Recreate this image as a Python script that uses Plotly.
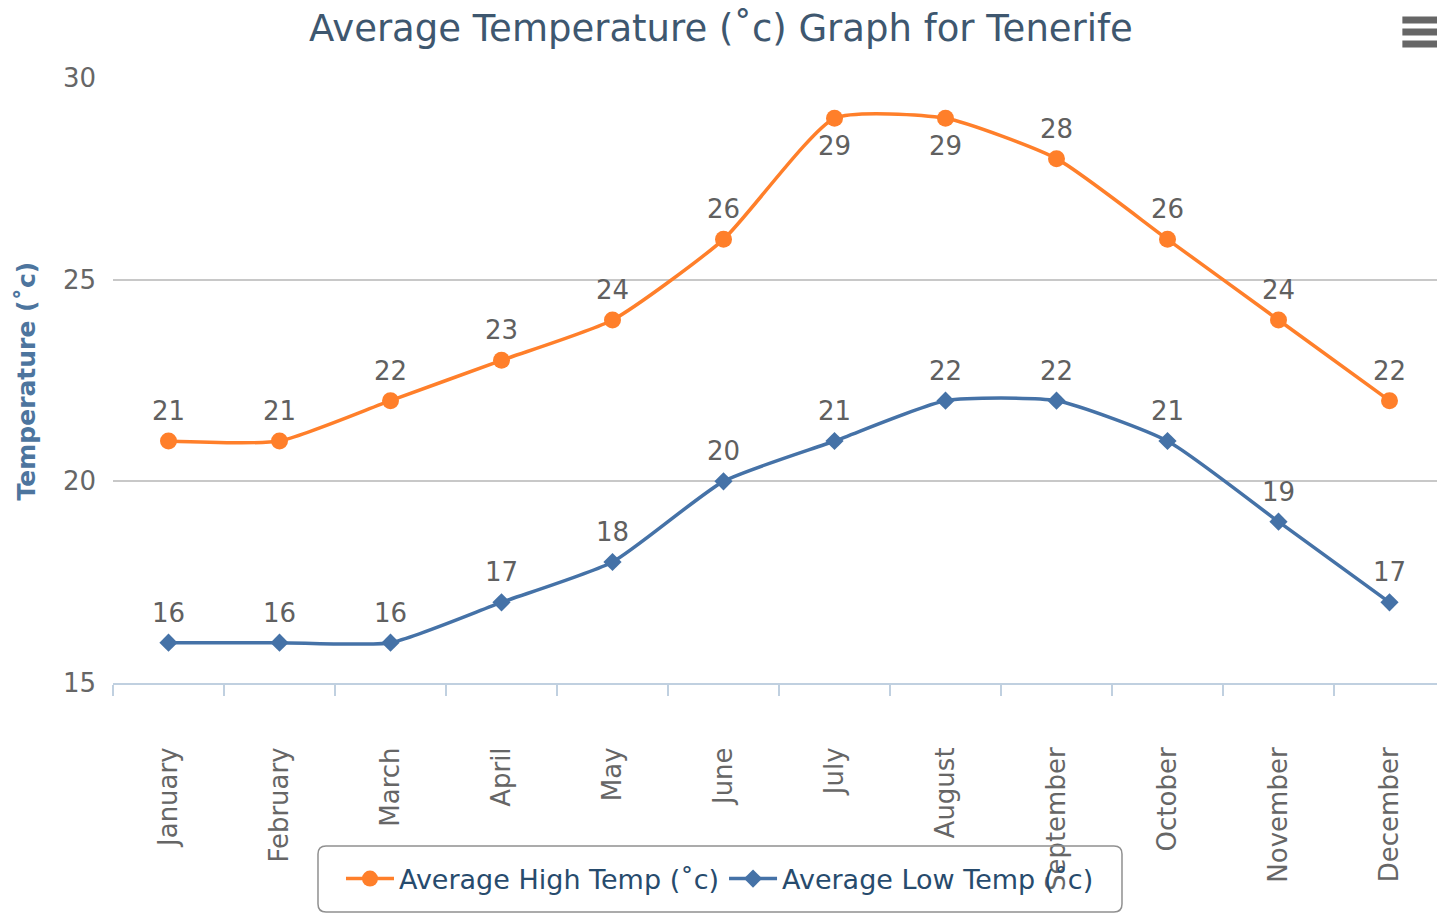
import plotly.graph_objects as go

months = ["January", "February", "March", "April", "May", "June",
          "July", "August", "September", "October", "November", "December"]
high_temps = [21, 21, 22, 23, 24, 26, 29, 29, 28, 26, 24, 22]
low_temps = [16, 16, 16, 17, 18, 20, 21, 22, 22, 21, 19, 17]
y_ticks = [15, 20, 25, 30]

HIGH_NAME = "Average High Temp (˚c)"
LOW_NAME = "Average Low Temp (˚c)"
TITLE = "Average Temperature (˚c) Graph for Tenerife"
Y_TITLE = "Temperature (˚c)"

FONT = "DejaVu Sans"
ORANGE = "#FF7F2A"
BLUE = "#4572A7"

fig = go.Figure()
fig.add_trace(go.Scatter(
    x=months, y=high_temps, name=HIGH_NAME, mode="lines+markers",
    line=dict(color=ORANGE, width=3.5, shape="spline", smoothing=0.55),
    marker=dict(symbol="circle", size=17, color=ORANGE),
    cliponaxis=False,
))
fig.add_trace(go.Scatter(
    x=months, y=low_temps, name=LOW_NAME, mode="lines+markers",
    line=dict(color=BLUE, width=3.5, shape="spline", smoothing=0.55),
    marker=dict(symbol="diamond", size=14, color=BLUE),
    cliponaxis=False,
))

annotations = []
for m, v in zip(months, high_temps):
    below = v >= 29
    annotations.append(dict(x=m, y=v, xref="x", yref="y", text=str(v), showarrow=False,
                            yshift=-28 if below else 30,
                            font=dict(family=FONT, size=26, color="#606060")))
for m, v in zip(months, low_temps):
    annotations.append(dict(x=m, y=v, xref="x", yref="y", text=str(v), showarrow=False,
                            yshift=30, font=dict(family=FONT, size=26, color="#606060")))

annotations.append(dict(text="<b>" + Y_TITLE + "</b>", xref="paper", yref="paper",
                        x=-0.0646, y=0.5, xanchor="center", yanchor="middle",
                        textangle=-90, showarrow=False,
                        font=dict(family=FONT, size=25, color="#4d759e")))

shapes = []
# menu icon (decorative)
for yp in [1.0959, 1.0760, 1.0562]:
    shapes.append(dict(type="line", xref="paper", yref="paper",
                       x0=0.9680, x1=0.9965, y0=yp, y1=yp,
                       line=dict(color="#666666", width=7)))
# rounded legend box
x0, x1, y0, y1 = 0.1539, 0.7575, -0.3785, -0.2694
rx, ry = 8 / 1332, 8 / 605
path = (f"M {x0+rx},{y1} L {x1-rx},{y1} Q {x1},{y1} {x1},{y1-ry} "
        f"L {x1},{y0+ry} Q {x1},{y0} {x1-rx},{y0} L {x0+rx},{y0} "
        f"Q {x0},{y0} {x0},{y0+ry} L {x0},{y1-ry} Q {x0},{y1} {x0+rx},{y1} Z")
shapes.append(dict(type="path", xref="paper", yref="paper", path=path,
                   line=dict(color="#909090", width=1.5), fillcolor="rgba(0,0,0,0)"))

fig.update_layout(
    width=1437, height=905,
    margin=dict(l=105, r=0, t=70, b=230, autoexpand=False),
    paper_bgcolor="white", plot_bgcolor="white",
    font=dict(family=FONT, color="#666666"),
    title=dict(text=TITLE, x=713 / 1437, xanchor="center", xref="container",
               y=1 - 20 / 905, yanchor="middle",
               font=dict(family=FONT, size=37, color="#3e576f")),
    xaxis=dict(
        type="category", range=[-0.5, 11.5], automargin=False,
        tickson="boundaries", ticks="outside", ticklen=11, tickwidth=2,
        tickcolor="#C0D0E0", showline=True, linecolor="#C0D0E0", linewidth=2,
        showgrid=False, tickangle=-90, ticklabelstandoff=52,
        tickfont=dict(family=FONT, size=26, color="#666666"),
    ),
    yaxis=dict(
        range=[15, 30], tickvals=y_ticks, showgrid=True, gridcolor="#C8C8C8",
        gridwidth=2, zeroline=False, showline=False, ticks="", automargin=False,
        ticklabelstandoff=16,
        tickfont=dict(family=FONT, size=26, color="#666666"),
    ),
    legend=dict(
        orientation="h", x=0.4557, xanchor="center", xref="paper",
        y=-0.324, yanchor="middle", itemwidth=48,
        bgcolor="rgba(0,0,0,0)", borderwidth=0,
        font=dict(family=FONT, size=27, color="#274b6d"),
    ),
    annotations=annotations,
    shapes=shapes,
    showlegend=True,
)

fig.write_html("out.html")
